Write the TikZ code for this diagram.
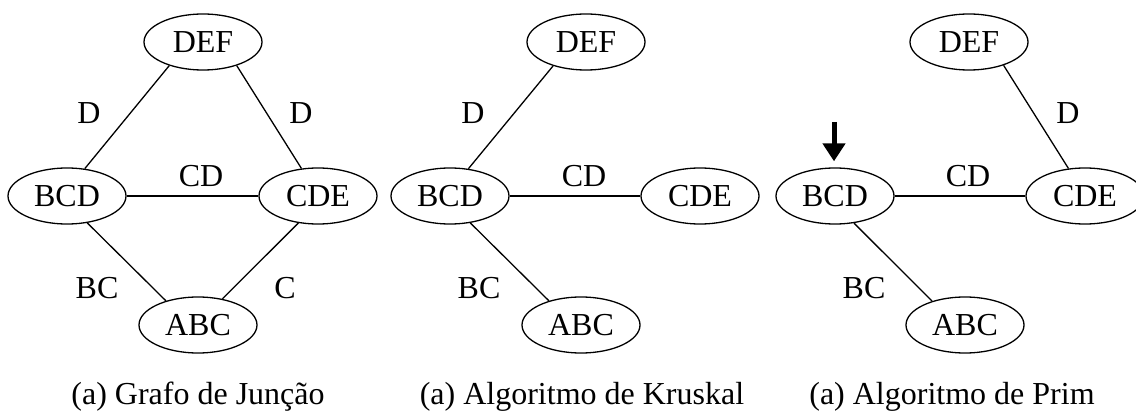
\documentclass[tikz,border=0pt]{standalone}
\usepackage{fontspec}
\setmainfont{Liberation Serif}
\usetikzlibrary{arrows.meta,shapes.geometric}
\tikzset{
  jt/.style={draw, ellipse, line width=1.3pt, minimum width=118pt, minimum height=56pt, inner sep=0pt, font=\fontsize{32}{38}\selectfont},
  sep/.style={inner sep=0pt, font=\fontsize{32}{38}\selectfont},
  conn/.style={line width=1.3pt},
  captxt/.style={anchor=base, inner sep=0pt, font=\fontsize{32}{38}\selectfont},
  pointer/.style={line width=5pt, -{Triangle[width=22pt,length=18pt]}, shorten >=6pt}
}
\begin{document}
\begin{tikzpicture}[x=1pt,y=-1pt]
\useasboundingbox (0,0) rectangle (1136,414);
% Graph 1
\node[jt] (DEFa) at (203,42) {DEF};
\node[jt] (BCDa) at (67,196) {BCD};
\node[jt] (CDEa) at (318,196) {CDE};
\node[jt] (ABCa) at (198,325) {ABC};
\draw[conn] (BCDa.57) -- (DEFa.215);
\draw[conn] (CDEa.121) -- (DEFa.325);
\draw[conn] (BCDa.east) -- (CDEa.west);
\draw[conn] (BCDa.307) -- (ABCa.143);
\draw[conn] (CDEa.234) -- (ABCa.47);
\node[sep] (la1) at (89,113) {D};
\node[sep] (la2) at (301,113) {D};
\node[sep] (la3) at (201,176) {CD};
\node[sep] (la4) at (97,288) {BC};
\node[sep] (la5) at (285,288) {C};
\node[captxt] (capa) at (198,404) {(a) Grafo de Junção};
% Graph 2
\node[jt] (DEFb) at (586,42) {DEF};
\node[jt] (BCDb) at (450,196) {BCD};
\node[jt] (CDEb) at (700,196) {CDE};
\node[jt] (ABCb) at (581,325) {ABC};
\draw[conn] (BCDb.56) -- (DEFb.216);
\draw[conn] (BCDb.east) -- (CDEb.west);
\draw[conn] (BCDb.307) -- (ABCb.143);
\node[sep] (lb1) at (473,113) {D};
\node[sep] (lb2) at (584,176) {CD};
\node[sep] (lb3) at (479,288) {BC};
\node[captxt] (capb) at (582,404) {(a) Algoritmo de Kruskal};
% Graph 3
\node[jt] (DEFc) at (969,42) {DEF};
\node[jt] (BCDc) at (835,196) {BCD};
\node[jt] (CDEc) at (1085,196) {CDE};
\node[jt] (ABCc) at (965,325) {ABC};
\draw[conn] (CDEc.121) -- (DEFc.326);
\draw[conn] (BCDc.east) -- (CDEc.west);
\draw[conn] (BCDc.305) -- (ABCc.144);
\node[sep] (lc1) at (1068,113) {D};
\node[sep] (lc2) at (968,176) {CD};
\node[sep] (lc3) at (864,288) {BC};
\node[captxt] (capc) at (952,404) {(a) Algoritmo de Prim};
\coordinate (arrtop) at (834,122);
\draw[pointer] (arrtop) -- ([xshift=-1pt]BCDc.north);
\end{tikzpicture}
\end{document}
